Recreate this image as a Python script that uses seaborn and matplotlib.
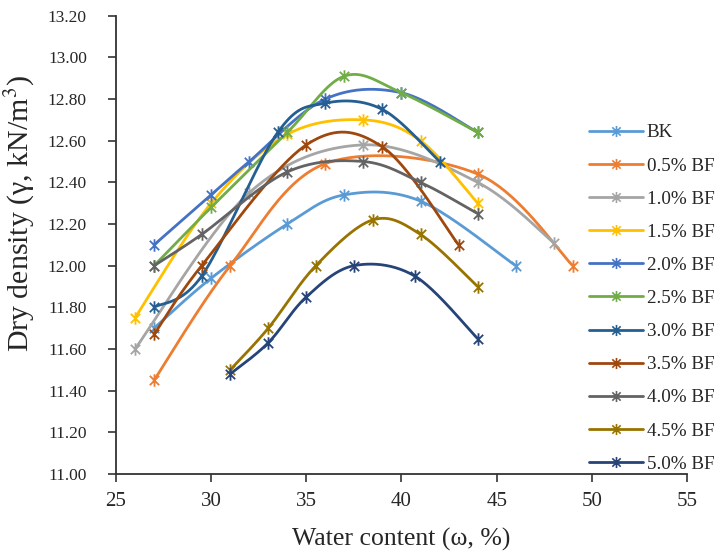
import numpy as np
import matplotlib
matplotlib.use("Agg")
import matplotlib.pyplot as plt
import seaborn as sns
from matplotlib.path import Path
from matplotlib.lines import Line2D

# ---------------- data ----------------
series_labels = ["BK", "0.5% BF", "1.0% BF", "1.5% BF", "2.0% BF", "2.5% BF",
                 "3.0% BF", "3.5% BF", "4.0% BF", "4.5% BF", "5.0% BF"]
series_colors = ["#5B9BD5", "#ED7D31", "#A5A5A5", "#FFC000", "#4472C4", "#70AD47",
                 "#255E91", "#9E480E", "#636363", "#997300", "#264478"]

w_bk = [27, 30, 34, 37, 41, 46]
d_bk = [11.70, 11.94, 12.20, 12.34, 12.31, 12.00]
w_05 = [27, 31, 36, 44, 49]
d_05 = [11.45, 12.00, 12.49, 12.44, 12.00]
w_10 = [26, 32, 38, 44, 48]
d_10 = [11.60, 12.35, 12.58, 12.40, 12.11]
w_15 = [26, 30, 34, 38, 41, 44]
d_15 = [11.75, 12.30, 12.63, 12.70, 12.60, 12.30]
w_20 = [27, 30, 32, 36, 40, 44]
d_20 = [12.10, 12.34, 12.50, 12.80, 12.83, 12.64]
w_25 = [27, 30, 34, 37, 40, 44]
d_25 = [12.00, 12.28, 12.64, 12.91, 12.83, 12.64]
w_30 = [27, 29.5, 33.5, 36, 39, 42]
d_30 = [11.80, 11.95, 12.64, 12.78, 12.75, 12.50]
w_35 = [27, 29.5, 35, 39, 43]
d_35 = [11.67, 12.00, 12.58, 12.57, 12.10]
w_40 = [27, 29.5, 34, 38, 41, 44]
d_40 = [12.00, 12.15, 12.45, 12.50, 12.40, 12.25]
w_45 = [31, 33, 35.5, 38.5, 41, 44]
d_45 = [11.50, 11.70, 12.00, 12.22, 12.15, 11.90]
w_50 = [31, 33, 35, 37.5, 40.7, 44]
d_50 = [11.48, 11.63, 11.85, 12.00, 11.95, 11.65]

water = [w_bk, w_05, w_10, w_15, w_20, w_25, w_30, w_35, w_40, w_45, w_50]
density = [d_bk, d_05, d_10, d_15, d_20, d_25, d_30, d_35, d_40, d_45, d_50]

x_ticks = [25, 30, 35, 40, 45, 50, 55]
y_ticks = [11.00, 11.20, 11.40, 11.60, 11.80, 12.00, 12.20, 12.40,
           12.60, 12.80, 13.00, 13.20]


def excel_smooth(xs, ys, n=40):
    """Excel-like smoothed line (Catmull-Rom style cubic Bezier)."""
    P = np.column_stack([xs, ys]).astype(float)
    m = len(P)
    segs = []
    t = np.linspace(0, 1, n)[:, None]
    for i in range(m - 1):
        p0, p3 = P[i], P[i + 1]
        pm = P[i - 1] if i > 0 else P[i]
        pp = P[i + 2] if i + 2 < m else P[i + 1]
        c1 = p0 + (p3 - pm) / 6.0
        c2 = p3 - (pp - p0) / 6.0
        seg = ((1 - t) ** 3) * p0 + 3 * ((1 - t) ** 2) * t * c1 \
            + 3 * (1 - t) * (t ** 2) * c2 + (t ** 3) * p3
        if i > 0:
            seg = seg[1:]
        segs.append(seg)
    return np.vstack(segs)


# Excel-like star marker: vertical bar plus an X
star = Path([(0, -1), (0, 1), (-0.75, -0.75), (0.75, 0.75), (-0.75, 0.75), (0.75, -0.75)],
            [Path.MOVETO, Path.LINETO, Path.MOVETO, Path.LINETO, Path.MOVETO, Path.LINETO])

sns.set_theme(style="white")
plt.rcParams["font.family"] = ["Liberation Serif", "DejaVu Serif"]
plt.rcParams["mathtext.fontset"] = "stix"

fig = plt.figure(figsize=(7.18, 5.51), dpi=100)
ax = fig.add_axes([116 / 718, 1 - 474 / 551, (687 - 116) / 718, (474 - 15.7) / 551])

LW = 2.0
for k, (xs, ys) in enumerate(zip(water, density)):
    c = series_colors[k]
    sm = excel_smooth(xs, ys)
    sns.lineplot(x=sm[:, 0], y=sm[:, 1], sort=False, estimator=None, color=c,
                 linewidth=LW, ax=ax, legend=False, zorder=2 + k)
    ax.plot(xs, ys, linestyle="none", marker=star, markersize=9,
            markeredgecolor=c, markerfacecolor="none", markeredgewidth=1.3,
            zorder=2 + k)

ax.set_xlim(25, 55)
ax.set_ylim(11.0, 13.2)
ax.set_xticks(x_ticks)
ax.set_yticks(y_ticks)
ax.set_yticklabels([f"{v:.2f}" for v in y_ticks])
ax.tick_params(axis="both", direction="out", length=6, width=1.2, color="#333333",
               left=True, bottom=True)
ax.tick_params(axis="y", labelsize=12.5, pad=15)
ax.tick_params(axis="x", labelsize=15, pad=7)
for s in ["top", "right"]:
    ax.spines[s].set_visible(False)
for s in ["left", "bottom"]:
    ax.spines[s].set_color("#333333")
    ax.spines[s].set_linewidth(1.3)

ax.set_xlabel("Water content (\u03c9, %)", fontsize=18.5, labelpad=12)
ax.set_ylabel("Dry density (\u03b3, kN/m$^{3}$)", fontsize=21.5)
ax.yaxis.set_label_coords((37 - 116) / 571, (474 - 214) / 458.3)

handles = [Line2D([], [], color=c, linewidth=LW, marker=star, markersize=8,
                  markeredgecolor=c, markerfacecolor="none", markeredgewidth=1.2)
           for c in series_colors]
fig.legend(handles, series_labels, loc="upper left",
           bbox_to_anchor=(589 / 718, 1 - 124 / 551), frameon=False,
           fontsize=13.8, handlelength=2.8, handletextpad=0.22,
           labelspacing=0.82, borderpad=0, borderaxespad=0)

fig.savefig("out.png", dpi=100)
